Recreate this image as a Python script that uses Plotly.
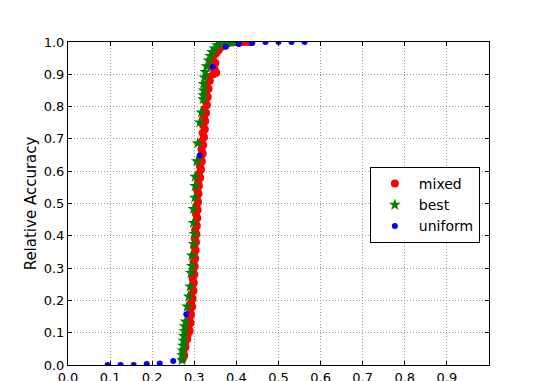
import plotly.graph_objects as go

mixed_x = [0.272, 0.276, 0.274, 0.279, 0.278, 0.283, 0.284, 0.289, 0.286, 0.291,
           0.288, 0.292, 0.290, 0.295, 0.292, 0.296, 0.293, 0.298, 0.295, 0.299,
           0.296, 0.300, 0.297, 0.301, 0.298, 0.302, 0.299, 0.303, 0.300, 0.304,
           0.301, 0.305, 0.302, 0.306, 0.303, 0.307, 0.304, 0.308, 0.305, 0.309,
           0.306, 0.310, 0.307, 0.311, 0.309, 0.314, 0.311, 0.316, 0.313, 0.318,
           0.315, 0.320, 0.317, 0.321, 0.318, 0.323, 0.320, 0.325, 0.321, 0.326,
           0.323, 0.328, 0.324, 0.330, 0.326, 0.332, 0.328, 0.334, 0.330, 0.337,
           0.333, 0.345, 0.352, 0.348, 0.340, 0.350, 0.338, 0.345, 0.352, 0.358,
           0.365, 0.372, 0.380, 0.388, 0.396, 0.404, 0.412, 0.420, 0.428, 0.436]
mixed_y = [0.018, 0.030, 0.042, 0.055, 0.068, 0.080, 0.092, 0.105, 0.118, 0.130,
           0.142, 0.155, 0.168, 0.180, 0.192, 0.205, 0.218, 0.230, 0.242, 0.255,
           0.268, 0.280, 0.292, 0.305, 0.318, 0.330, 0.342, 0.355, 0.368, 0.380,
           0.392, 0.405, 0.418, 0.430, 0.442, 0.455, 0.468, 0.480, 0.492, 0.505,
           0.518, 0.530, 0.542, 0.555, 0.568, 0.580, 0.592, 0.605, 0.618, 0.630,
           0.642, 0.655, 0.668, 0.680, 0.692, 0.705, 0.718, 0.730, 0.742, 0.755,
           0.768, 0.780, 0.792, 0.805, 0.818, 0.830, 0.842, 0.855, 0.868, 0.880,
           0.892, 0.900, 0.905, 0.915, 0.925, 0.935, 0.945, 0.955, 0.965, 0.975,
           0.985, 0.992, 0.997, 1.000, 1.000, 1.000, 1.000, 1.000, 1.000, 1.000]

best_x = [0.271, 0.271, 0.272, 0.273, 0.274, 0.275, 0.276, 0.277, 0.279, 0.283,
          0.287, 0.290, 0.292, 0.294, 0.294, 0.298, 0.300, 0.298, 0.298, 0.301,
          0.302, 0.302, 0.306, 0.308, 0.313, 0.317, 0.321, 0.321, 0.322, 0.322,
          0.324, 0.326, 0.329, 0.334, 0.338, 0.342, 0.348, 0.354, 0.362, 0.370,
          0.378, 0.386, 0.394, 0.400]
best_y = [0.015, 0.031, 0.045, 0.060, 0.075, 0.090, 0.105, 0.120, 0.135, 0.181,
          0.212, 0.243, 0.285, 0.307, 0.339, 0.375, 0.406, 0.440, 0.483, 0.518,
          0.554, 0.583, 0.631, 0.686, 0.751, 0.782, 0.823, 0.835, 0.850, 0.870,
          0.890, 0.907, 0.925, 0.943, 0.957, 0.969, 0.980, 0.990, 0.996, 1.000,
          1.000, 1.000, 1.000, 1.000]

uniform_x = [0.094, 0.125, 0.156, 0.187, 0.218, 0.250, 0.281, 0.313, 0.344,
             0.375, 0.406, 0.437, 0.469, 0.500, 0.531, 0.562]
uniform_y = [0.000, 0.000, 0.000, 0.003, 0.005, 0.012, 0.157, 0.649, 0.923,
             0.985, 0.994, 0.997, 1.000, 1.000, 1.000, 1.000]

x_ticks = [0.0, 0.1, 0.2, 0.3, 0.4, 0.5, 0.6, 0.7, 0.8, 0.9]
x_tick_labels = ["0.0", "0.1", "0.2", "0.3", "0.4", "0.5", "0.6", "0.7", "0.8", "0.9"]
y_ticks = [0.0, 0.1, 0.2, 0.3, 0.4, 0.5, 0.6, 0.7, 0.8, 0.9, 1.0]
y_tick_labels = ["0.0", "0.1", "0.2", "0.3", "0.4", "0.5", "0.6", "0.7", "0.8", "0.9", "1.0"]

FONT = "DejaVu Sans"

fig = go.Figure()
fig.add_trace(go.Scatter(x=mixed_x, y=mixed_y, mode="markers", name="mixed",
                         marker=dict(color="#ff0000", size=8, symbol="circle",
                                     line=dict(width=0))))
fig.add_trace(go.Scatter(x=best_x, y=best_y, mode="markers", name="best",
                         marker=dict(color="#008000", size=9, symbol="star",
                                     line=dict(width=0))))
fig.add_trace(go.Scatter(x=uniform_x, y=uniform_y, mode="markers", name="uniform",
                         marker=dict(color="#0000ff", size=6, symbol="circle",
                                     line=dict(width=0))))

axis_common = dict(
    showline=True, linecolor="black", linewidth=1, mirror="allticks",
    ticks="inside", ticklen=4, tickcolor="black", tickwidth=1,
    showgrid=True, gridcolor="#9a9a9a", griddash="1px,2px", gridwidth=1,
    zeroline=False, automargin=False,
    tickfont=dict(family=FONT, size=13, color="black"),
)

fig.update_xaxes(range=[0, 1.0], tickmode="array", tickvals=x_ticks,
                 ticktext=x_tick_labels, **axis_common)
fig.update_yaxes(range=[0, 1.0], tickmode="array", tickvals=y_ticks,
                 ticktext=y_tick_labels,
                 title=dict(text="Relative Accuracy", standoff=3,
                            font=dict(family=FONT, size=15, color="black")),
                 **axis_common)

fig.update_layout(
    width=535, height=373,
    margin=dict(l=60, r=54, t=34, b=16),
    paper_bgcolor="white", plot_bgcolor="white",
    font=dict(family=FONT, color="black"),
    legend=dict(x=0.717, y=0.613, xanchor="left", yanchor="top",
                bgcolor="white", bordercolor="black", borderwidth=1,
                font=dict(family=FONT, size=14, color="black"),
                tracegroupgap=0, itemsizing="trace", itemwidth=38),
    showlegend=True,
)

fig.write_html("out.html")
